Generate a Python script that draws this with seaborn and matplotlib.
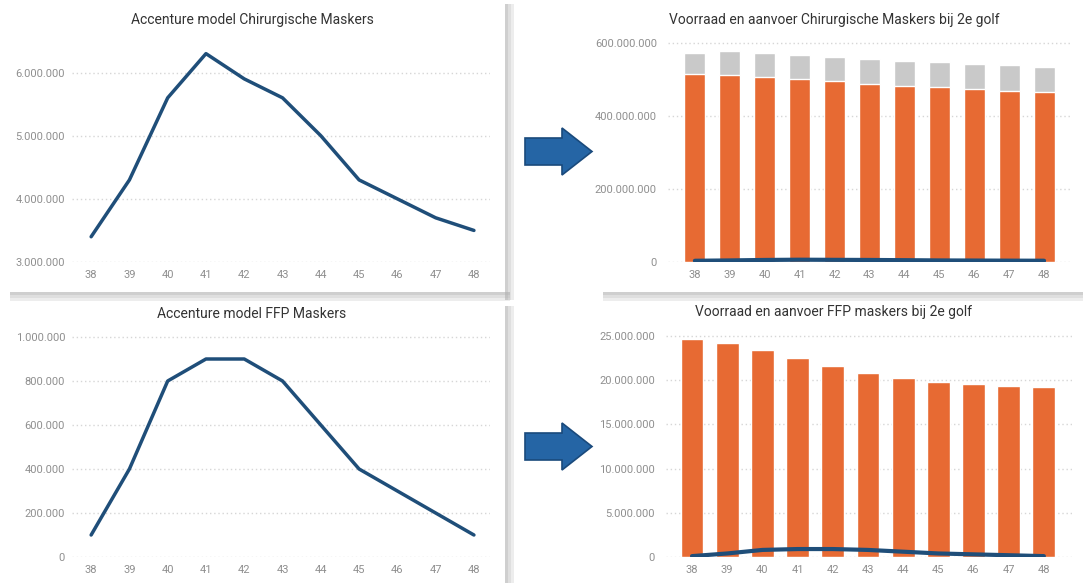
import matplotlib
matplotlib.use("Agg")
import matplotlib.pyplot as plt
import matplotlib.patches as mpatches
import seaborn as sns
import pandas as pd

# weeks 38 .. 48
weeks = [38, 39, 40, 41, 42, 43, 44, 45, 46, 47, 48]

# Accenture model demand
chirurgisch_model = [3.4e6, 4.3e6, 5.6e6, 6.3e6, 5.9e6, 5.6e6, 5.0e6, 4.3e6, 4.0e6, 3.7e6, 3.5e6]
ffp_model = [1.0e5, 4.0e5, 8.0e5, 9.0e5, 9.0e5, 8.0e5, 6.0e5, 4.0e5, 3.0e5, 2.0e5, 1.0e5]

# stock (orange) and supply (grey) surgical masks
chirurgisch_voorraad = [516e6, 512e6, 507e6, 501e6, 496e6, 489e6, 483e6, 479e6, 474e6, 469e6, 466e6]
chirurgisch_aanvoer = [58e6, 67e6, 67e6, 67e6, 66e6, 66e6, 67e6, 68e6, 68e6, 71e6, 68e6]

# stock FFP masks
ffp_voorraad = [24.7e6, 24.25e6, 23.45e6, 22.55e6, 21.6e6, 20.8e6, 20.25e6, 19.8e6, 19.6e6, 19.35e6, 19.25e6]

titles = ["Accenture model Chirurgische Maskers",
          "Voorraad en aanvoer Chirurgische Maskers bij 2e golf",
          "Accenture model FFP Maskers",
          "Voorraad en aanvoer FFP maskers bij 2e golf"]

ORANGE = "#e76a33"
GREY = "#c9c9c9"
BLUE = "#1f4e79"
TICK = "#8f8f8f"
TITLE = "#333333"

sns.set_style("white")
plt.rcParams["font.family"] = ["Roboto", "DejaVu Sans"]

W, H = 1083, 583
fig = plt.figure(figsize=(W / 100, H / 100), dpi=100)
fig.patch.set_facecolor("white")


def box(l, t, r, b):
    return [l / W, 1 - b / H, (r - l) / W, (b - t) / H]


def rect(l, t, r, b, color, alpha=1.0):
    fig.patches.append(mpatches.Rectangle((l / W, 1 - b / H), (r - l) / W, (b - t) / H,
                                          transform=fig.transFigure, color=color,
                                          alpha=alpha, zorder=0, lw=0))


def dots(num):
    return f"{int(round(num)):,}".replace(",", ".")


# card shadows
for off, a in [(0, 0.6), (3, 0.4), (6, 0.22)]:
    rect(505 + off, 4, 508 + off, 300, "#b0b0b0", a)
    rect(505 + off, 306, 508 + off, 583, "#b0b0b0", a)
    rect(10, 292 + off, 510, 295 + off, "#b0b0b0", a)
    rect(603, 292 + off, 1083, 295 + off, "#b0b0b0", a)


def style(ax):
    sns.despine(ax=ax, left=True, bottom=True)
    ax.set_facecolor("none")
    ax.grid(axis="y", color="#d6d6d6", linestyle=(0, (1, 2)), linewidth=1)
    ax.grid(axis="x", visible=False)
    ax.tick_params(axis="both", length=0, labelsize=8, colors=TICK)
    ax.tick_params(axis="y", pad=5)
    ax.tick_params(axis="x", pad=6)
    ax.yaxis.set_major_formatter(matplotlib.ticker.FuncFormatter(lambda v, p: dots(v)))
    ax.set_xlabel("")
    ax.set_ylabel("")


# top-left: surgical model
ax1 = fig.add_axes(box(72, 41, 490, 262))
sns.lineplot(x=weeks, y=chirurgisch_model, ax=ax1, color=BLUE, linewidth=2.5)
ax1.set_xlim(37.5, 48.42)
ax1.set_ylim(3e6, 6.5e6)
ax1.set_yticks([3e6, 4e6, 5e6, 6e6])
ax1.set_xticks(weeks)
style(ax1)

# bottom-left: FFP model
ax3 = fig.add_axes(box(72, 326, 490, 557))
sns.lineplot(x=weeks, y=ffp_model, ax=ax3, color=BLUE, linewidth=2.5)
ax3.set_xlim(37.5, 48.42)
ax3.set_ylim(0, 1.05e6)
ax3.set_yticks([0, 2e5, 4e5, 6e5, 8e5, 1e6])
ax3.set_xticks(weeks)
style(ax3)

# top-right: surgical stock + supply
df_chir = pd.DataFrame({"week": [str(w) for w in weeks],
                        "voorraad": chirurgisch_voorraad,
                        "totaal": [v + a for v, a in zip(chirurgisch_voorraad, chirurgisch_aanvoer)]})
ax2 = fig.add_axes(box(668, 39, 1072, 262))
sns.barplot(data=df_chir, x="week", y="totaal", color=GREY, width=0.6, saturation=1, ax=ax2)
sns.barplot(data=df_chir, x="week", y="voorraad", color=ORANGE, width=0.6, saturation=1, ax=ax2)
ax2.plot(range(len(weeks)), chirurgisch_model, color=BLUE, linewidth=3, solid_capstyle="round")
ax2.set_xlim(-0.77, 10.8)
ax2.set_ylim(0, 611e6)
ax2.set_yticks([0, 200e6, 400e6, 600e6])
style(ax2)
ax2.tick_params(axis="y", pad=8)

# bottom-right: FFP stock
df_ffp = pd.DataFrame({"week": [str(w) for w in weeks], "voorraad": ffp_voorraad})
ax4 = fig.add_axes(box(666, 330, 1072, 557))
sns.barplot(data=df_ffp, x="week", y="voorraad", color=ORANGE, width=0.65, saturation=1, ax=ax4)
ax4.plot(range(len(weeks)), ffp_model, color=BLUE, linewidth=3, solid_capstyle="round")
ax4.set_xlim(-0.74, 10.8)
ax4.set_ylim(0, 25.68e6)
ax4.set_yticks([0, 5e6, 10e6, 15e6, 20e6, 25e6])
style(ax4)
ax4.tick_params(axis="y", pad=8)

# titles
for (cx, cy), t in zip([(252, 20), (834, 20), (252, 314), (834, 312)], titles):
    fig.text(cx / W, 1 - cy / H, t, ha="center", va="center", fontsize=10, color=TITLE)

# arrows between panels
for y0 in [128, 423]:
    pts = [(525, y0 + 10), (562, y0 + 10), (562, y0), (592, y0 + 23.5),
           (562, y0 + 47), (562, y0 + 37), (525, y0 + 37)]
    fig.patches.append(mpatches.Polygon([(x / W, 1 - y / H) for x, y in pts], closed=True,
                                        transform=fig.transFigure, facecolor="#2565a5",
                                        edgecolor="#1a4a7c", linewidth=1.2, zorder=3))

fig.savefig("out.png", dpi=100)
